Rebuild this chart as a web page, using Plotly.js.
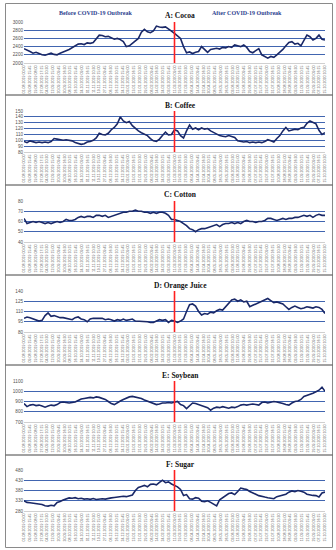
<!DOCTYPE html>
<html><head><meta charset="utf-8">
<script src="https://cdn.plot.ly/plotly-3.0.1.min.js"></script>
<style>html,body{margin:0;padding:0;background:#fff}#chart{width:336px;height:550px}</style>
</head><body><div id="chart"></div>
<script>
// ---------- data ----------
var tickLabels = ["01.08.2019 00:00","09.08.2019 15:45","19.08.2019 08:00","27.08.2019 17:15","04.09.2019 10:30","12.09.2019 15:00","20.09.2019 09:45","30.09.2019 16:30","08.10.2019 10:15","16.10.2019 15:45","24.10.2019 09:00","01.11.2019 16:15","11.11.2019 10:30","19.11.2019 15:00","27.11.2019 09:45","06.12.2019 16:30","16.12.2019 10:15","24.12.2019 15:45","03.01.2020 09:00","13.01.2020 16:15","21.01.2020 10:30","29.01.2020 15:00","06.02.2020 09:45","14.02.2020 16:30","24.02.2020 10:15","03.03.2020 15:45","11.03.2020 09:00","19.03.2020 16:15","27.03.2020 10:30","06.04.2020 15:00","14.04.2020 09:45","22.04.2020 16:30","30.04.2020 10:15","08.05.2020 15:45","18.05.2020 09:00","26.05.2020 16:15","03.06.2020 10:30","11.06.2020 15:00","19.06.2020 09:45","29.06.2020 16:30","07.07.2020 10:15","15.07.2020 15:45","23.07.2020 09:00","31.07.2020 16:15","10.08.2020 10:30","18.08.2020 15:00","26.08.2020 09:45","03.09.2020 16:30","11.09.2020 10:15","21.09.2020 15:45","29.09.2020 09:00","07.10.2020 16:15","15.10.2020 10:30"];
var outbreakLabel = "11.03.2020 09:00";

var titles = ["A: Cocoa","B: Coffee","C: Cotton","D: Orange Juice","E: Soybean","F: Sugar"];

var cocoa = [2350,2320,2280,2240,2260,2230,2200,2190,2220,2240,2210,2200,2240,2280,2300,2330,2370,2420,2460,2470,2450,2490,2480,2500,2600,2680,2670,2640,2650,2620,2580,2600,2570,2520,2400,2420,2480,2520,2600,2750,2820,2760,2740,2780,2900,2880,2870,2880,2840,2780,2720,2650,2600,2400,2250,2270,2230,2260,2280,2400,2320,2260,2330,2350,2360,2340,2380,2370,2400,2380,2440,2420,2400,2440,2380,2280,2250,2300,2350,2200,2150,2120,2160,2140,2200,2260,2330,2420,2500,2520,2460,2480,2420,2550,2680,2640,2560,2600,2680,2580,2560];
var coffee = [98,96,99,98,96,97,96,97,96,98,103,102,101,100,101,100,99,96,94,93,94,97,98,100,104,112,110,109,112,118,122,128,140,133,130,132,125,120,116,113,111,108,103,99,98,102,108,114,109,110,118,116,108,104,116,126,119,121,118,121,119,120,116,113,110,108,107,106,108,107,105,99,98,97,98,96,97,96,97,96,98,101,99,97,103,108,116,122,116,117,119,118,121,122,129,133,131,128,117,110,113];
var cotton = [63,58,59,60,59,60,59,58,59,58,59,60,59,60,62,61,61,62,64,65,64,65,65,64,66,66,65,66,64,65,66,67,68,69,69,70,70,71,70,70,69,69,68,69,68,69,69,68,66,62,62,61,60,58,56,53,52,50,52,53,53,54,55,56,57,55,57,58,58,59,58,59,58,60,61,60,60,59,60,60,61,63,63,62,61,62,63,62,63,63,64,64,65,66,65,66,64,66,67,66,66];
var orangeJuice = [100,102,101,99,98,96,97,104,108,103,104,102,101,101,100,99,98,101,102,99,98,95,99,100,100,99,100,98,99,98,96,98,97,99,97,98,99,96,96,95,96,95,94,94,96,98,97,98,94,97,96,94,96,99,110,120,121,118,110,105,107,106,109,108,111,113,112,117,121,127,128,125,127,124,125,117,119,121,123,126,127,129,126,123,124,122,121,117,113,116,118,116,114,115,117,116,115,117,116,113,107];
var soybean = [880,850,865,870,860,865,855,845,855,865,860,870,890,895,890,885,890,895,910,925,930,935,940,935,945,940,930,920,900,880,870,890,905,920,935,945,950,945,940,930,915,905,890,880,870,875,885,885,890,885,895,900,870,860,830,860,885,880,870,860,850,840,815,835,845,840,850,845,835,845,840,850,865,870,865,870,875,870,865,890,895,885,895,900,895,890,880,870,865,885,900,905,920,950,960,965,980,995,1010,1040,1000];
var sugar = [330,322,320,318,316,314,312,306,304,308,305,322,326,334,340,344,342,345,340,342,338,340,337,341,336,338,340,338,342,344,346,348,350,352,350,355,358,380,395,400,405,398,410,412,408,420,430,418,422,412,405,398,385,355,360,340,338,345,342,328,325,330,322,315,305,335,345,355,365,368,360,375,392,388,385,375,370,362,355,350,348,345,344,340,350,355,360,362,372,378,374,380,376,372,362,358,356,355,348,368,372];

var yTicks = [
  [2000,2200,2400,2600,2800,3000],
  [80,90,100,110,120,130,140,150],
  [40,50,60,70,80],
  [80,95,110,125,140],
  [700,800,900,1000,1100],
  [280,330,380,430,480]
];
var series = [cocoa, coffee, cotton, orangeJuice, soybean, sugar];

// ---------- layout (pixel geometry) ----------
var W = 336, H = 550;
var plotTop = [22,111,201,291,381,470];
var plotH = 41;
var titleY = [16,105,195,285,375,464];
var sepY = [95,185,275,365,455];
function py(p){ return 1 - p/H; }
function px(p){ return p/W; }

var nT = tickLabels.length;
var tickIdx = tickLabels.map(function(_,i){return i;});
var outIdx = tickLabels.indexOf(outbreakLabel);

var data = [], layout = {
  width: W, height: H, margin:{l:0,r:0,t:0,b:0},
  paper_bgcolor:'#fff', plot_bgcolor:'#fff', showlegend:false,
  annotations:[], shapes:[]
};
var gridC = '#4165b0';
for (var s=0; s<6; s++){
  var vals = series[s], n = vals.length;
  var xs = vals.map(function(_,i){ return i*(nT-1)/(n-1); });
  var xa = 'x'+(s?s+1:''), ya = 'y'+(s?s+1:'');
  data.push({x:xs, y:vals, xaxis:xa, yaxis:ya, type:'scatter', mode:'lines',
    line:{color:'#1a2867', width:1.6}, hoverinfo:'skip'});
  var tks = yTicks[s];
  layout['xaxis'+(s?s+1:'')] = {
    domain:[px(24),px(325)], range:[0,nT-1], anchor:ya,
    tickmode:'array', tickvals:tickIdx, ticktext:tickLabels, tickangle:-90,
    tickfont:{size:3.6, color:'#5a5a5a', family:'Liberation Sans'},
    showgrid:false, zeroline:false, showline:true, linecolor:'#d0d0d0', linewidth:1,
    ticks:'', fixedrange:true
  };
  layout['yaxis'+(s?s+1:'')] = {
    domain:[py(plotTop[s]+plotH), py(plotTop[s])], range:[tks[0], tks[tks.length-1]],
    anchor:xa, tickmode:'array', tickvals:tks,
    tickfont:{size:4.6, color:'#505050', family:'Liberation Sans'},
    showgrid:true, gridcolor:gridC, gridwidth:1, zeroline:false, showline:false,
    ticks:'', fixedrange:true
  };
  layout.annotations.push({xref:'paper', yref:'paper', x:px(180), y:py(titleY[s]),
    text:'<b>'+titles[s]+'</b>', showarrow:false, xanchor:'center', yanchor:'middle',
    font:{family:'Liberation Serif', size:7.5, color:'#111'}});
  layout.shapes.push({type:'line', xref:xa, yref:ya+' domain', x0:outIdx, x1:outIdx, y0:0, y1:1,
    line:{color:'#ff1f1f', width:1.6}});
}
layout.annotations.push({xref:'paper', yref:'paper', x:px(95), y:py(13),
  text:'<b>Before COVID-19 Outbreak</b>', showarrow:false, xanchor:'center', yanchor:'middle',
  font:{family:'Liberation Serif', size:6, color:'#2d3f8f'}});
layout.annotations.push({xref:'paper', yref:'paper', x:px(247), y:py(13),
  text:'<b>After COVID-19 Outbreak</b>', showarrow:false, xanchor:'center', yanchor:'middle',
  font:{family:'Liberation Serif', size:6, color:'#2d3f8f'}});
// frame and separators
layout.shapes.push({type:'rect', xref:'paper', yref:'paper', x0:px(5.5), x1:px(332.5), y0:py(547.5), y1:py(3.5),
  line:{color:'#8a8a8a', width:1}});
sepY.forEach(function(yv){
  layout.shapes.push({type:'line', xref:'paper', yref:'paper', x0:px(5.5), x1:px(332.5), y0:py(yv), y1:py(yv),
    line:{color:'#444', width:1}});
});
Plotly.newPlot('chart', data, layout, {staticPlot:true, displayModeBar:false});
</script></body></html>
